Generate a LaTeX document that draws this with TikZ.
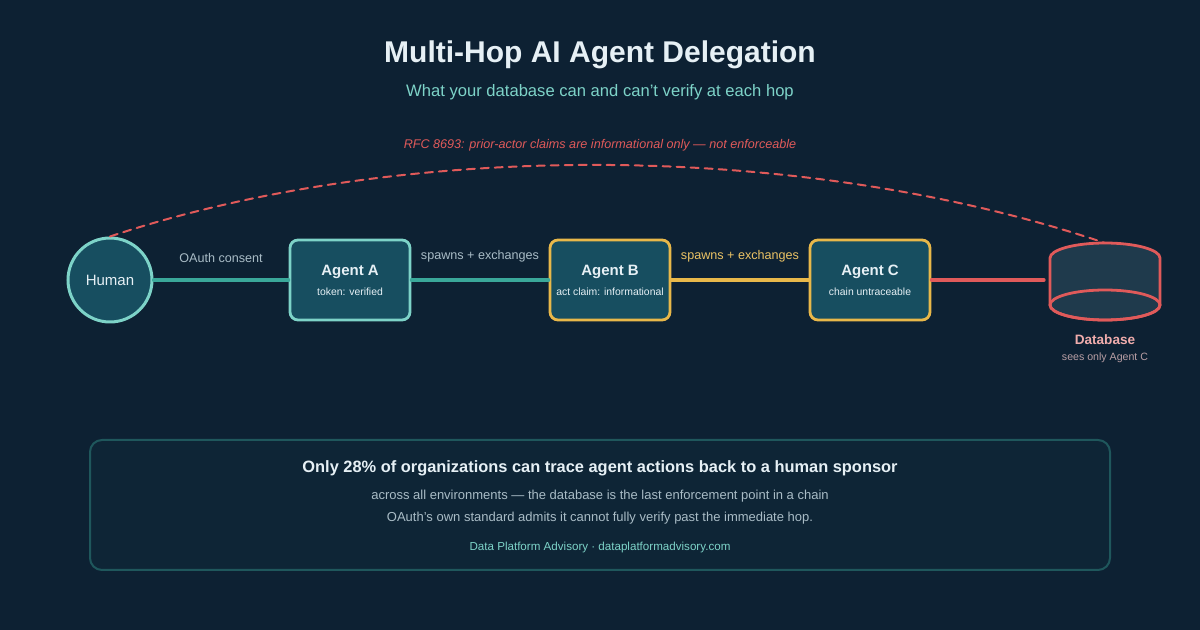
\documentclass[tikz,border=0pt]{standalone}
\usepackage{fontspec}
\setmainfont{Liberation Sans}
\usetikzlibrary{positioning}
\definecolor{bg}{HTML}{0D2133}
\definecolor{tea}{HTML}{7DD3C8}
\definecolor{teal}{HTML}{3AA89A}
\definecolor{gol}{HTML}{E8B84A}
\definecolor{rot}{HTML}{E05A5A}
\definecolor{box}{HTML}{174E60}
\definecolor{dbfill}{HTML}{1F3A4C}
\definecolor{pale}{HTML}{E6F0F5}
\definecolor{grau}{HTML}{A9BCC6}
\begin{document}
\begin{tikzpicture}[x=0.5pt,y=-0.5pt,line cap=round]
	\tikzstyle{agent}=[draw,rounded corners=4pt,fill=box,line width=1.4pt,minimum width=60pt,minimum height=40pt,inner sep=0pt];
	\tikzstyle{edge}=[line width=1.6pt];
	\tikzstyle{lab}=[font=\fontsize{6.3}{7}\selectfont,inner sep=0pt];
\newcommand{\agenttext}[2]{\parbox{60pt}{\centering\fontsize{7.5}{9}\selectfont\bfseries\color{pale}#1\\[4pt]\fontsize{5.2}{6}\mdseries\selectfont#2}}
%<--------------------------------------------------------------------------->%
	\fill[bg] (0,0) rectangle (1200,630);
	\useasboundingbox (0,0) rectangle (1200,630);
	\node[font=\fontsize{15}{18}\selectfont\bfseries,text=pale] (title) at (600,55) {Multi-Hop AI Agent Delegation};
	\node[font=\fontsize{8.3}{10}\selectfont,text=tea] (sub) at (600,92) {What your database can and can't verify at each hop};
	\node[lab,font=\fontsize{6.3}{7}\selectfont\itshape,text=rot] (rfc) at (600,145) {RFC 8693: prior-actor claims are informational only --- not enforceable};
	%% Nodes
	\node[circle,draw=tea,fill=box,line width=1.5pt,minimum size=42pt,font=\fontsize{7.5}{9}\selectfont,text=pale] (H) at (110,280) {Human};
	\node[agent,draw=tea,text=grau] (A) at (350,280) {\agenttext{Agent A}{token: verified}};
	\node[agent,draw=gol,text=gol!80!white] (B) at (610,280) {\agenttext{Agent B}{act claim: informational}};
	\node[agent,draw=gol,text=gol!80!white] (C) at (870,280) {\agenttext{Agent C}{chain untraceable}};
	%% Database
	\draw[rot,fill=dbfill,line width=1.4pt] (1050,305) -- (1050,258) arc[start angle=180,end angle=360,x radius=55,y radius=15] -- (1160,305) arc[start angle=0,end angle=180,x radius=55,y radius=15];
	\draw[rot,line width=1.4pt] (1105,305) ellipse[x radius=55,y radius=15];
	\coordinate (D) at (1050,280);
	\coordinate (Dtop) at (1105,243);
	\node[font=\fontsize{6.8}{8}\selectfont\bfseries,text=rot!50!white] (dbl) at (1105,340) {Database};
	\node[lab,font=\fontsize{5.3}{6}\selectfont,text=rot!30!grau] (dbs) at (1105,358) {sees only Agent C};
	%% Links
	\draw[edge,teal] (H) -- (A) node[lab,midway,above=8pt,text=grau] {OAuth consent};
	\draw[edge,teal] (A) -- (B) node[lab,midway,above=8pt,text=grau] {spawns + exchanges};
	\draw[edge,gol] (B) -- (C) node[lab,midway,above=8pt,text=gol!85!white] {spawns + exchanges};
	\draw[edge,rot] (C) -- ([xshift=-3pt]D);
	\draw[rot,line width=1pt,dash pattern=on 4pt off 3pt] (H.north) .. controls (400,140) and (800,140) .. (Dtop);
	%% Footer
	\draw[rounded corners=6pt,fill=bg!80!teal!15!bg,draw=teal!40!bg,line width=1pt] (90,440) rectangle (1110,570);
	\node[font=\fontsize{8.2}{10}\selectfont\bfseries,text=pale] (f1) at (600,468) {Only 28\% of organizations can trace agent actions back to a human sponsor};
	\node[lab,font=\fontsize{6.5}{8}\selectfont,text=grau] (f2) at (600,496) {across all environments --- the database is the last enforcement point in a chain};
	\node[lab,font=\fontsize{6.5}{8}\selectfont,text=grau] (f3) at (600,518) {OAuth's own standard admits it cannot fully verify past the immediate hop.};
	\node[lab,font=\fontsize{5.8}{7}\selectfont,text=tea] (f4) at (600,548) {Data Platform Advisory · dataplatformadvisory.com};
\end{tikzpicture}
\end{document}
